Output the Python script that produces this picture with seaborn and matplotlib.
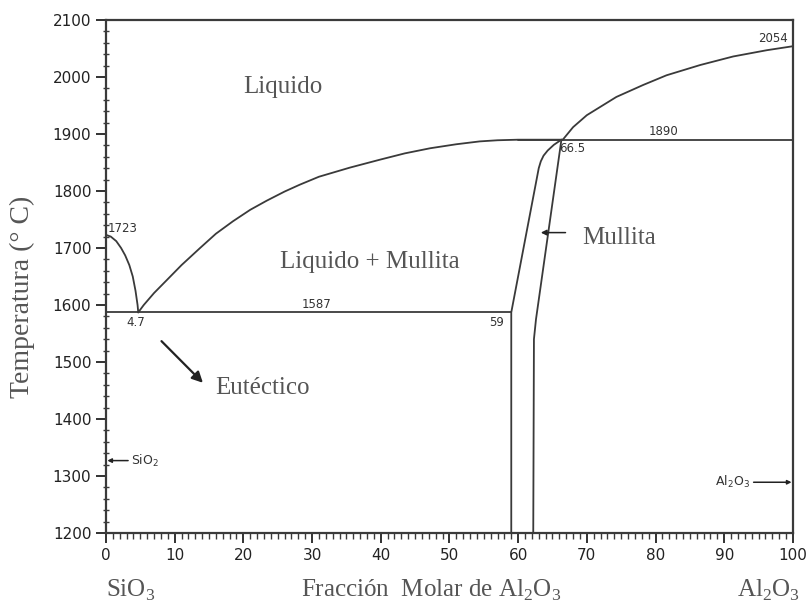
import seaborn as sns
import matplotlib.pyplot as plt
from matplotlib.ticker import MultipleLocator

# phase boundaries (x = mol % Al2O3, t = deg C)
sio2_liq_x = [0, 0.7, 1.5, 2.2, 2.8, 3.4, 3.9, 4.3, 4.6, 4.7]
sio2_liq_t = [1723, 1720, 1712, 1700, 1687, 1670, 1650, 1625, 1600, 1587]

mull_liq_x = [4.7, 5.5, 7, 8.8, 11, 13.7, 16, 18.5, 21, 23.4, 26, 28.2, 31,
              35.5, 39.9, 43.5, 47.2, 51, 54.4, 57, 60, 66.5]
mull_liq_t = [1587, 1600, 1621, 1643, 1670, 1700, 1725, 1747, 1767, 1783, 1799,
              1811, 1825, 1841, 1855, 1866, 1875, 1882, 1887, 1889, 1890, 1890]

al2o3_liq_x = [66.5, 68, 70, 74.3, 78.2, 81.6, 86.5, 91.3, 96.2, 100]
al2o3_liq_t = [1890, 1912, 1933, 1965, 1986, 2003, 2021, 2036, 2047, 2054]

mull_left_x = [59, 59, 63.0, 63.3, 63.7, 64.3, 65.2, 66.3]
mull_left_t = [1200, 1587, 1840, 1852, 1862, 1871, 1881, 1890]

mull_right_x = [62.2, 62.3, 62.6, 66.3]
mull_right_t = [1200, 1540, 1575, 1890]

eut_line_x = [0, 59]
eut_line_t = [1587, 1587]

per_line_x = [60, 100]
per_line_t = [1890, 1890]

curves = [
    (sio2_liq_x, sio2_liq_t),
    (mull_liq_x, mull_liq_t),
    (al2o3_liq_x, al2o3_liq_t),
    (mull_left_x, mull_left_t),
    (mull_right_x, mull_right_t),
    (eut_line_x, eut_line_t),
    (per_line_x, per_line_t),
]

# small numeric labels on the diagram
num_labels = ["1723", "4.7", "1587", "59", "66.5", "1890", "2054"]
num_x = [0.3, 4.3, 30.6, 56.9, 67.9, 81.1, 97.1]
num_t = [1735, 1570, 1600, 1570, 1875, 1904, 2068]
num_ha = ["left", "center", "center", "center", "center", "center", "center"]

sns.set_theme(style="ticks")
plt.rcParams['font.family'] = ['DejaVu Sans']

line_col = "#3a3a3a"
text_col = "#555555"
serif = "Liberation Serif"
sub2 = "$_{\\mathregular{2}}$"
sub3 = "$_{\\mathregular{3}}$"

fig = plt.figure(figsize=(8.12, 6.06), dpi=100)
ax = fig.add_axes([0.1305, 0.1205, 0.846, 0.8465])

for cx, ct in curves:
    sns.lineplot(x=cx, y=ct, sort=False, estimator=None, color=line_col,
                 linewidth=1.3, ax=ax)

ax.set_xlim(0, 100)
ax.set_ylim(1200, 2100)
ax.xaxis.set_major_locator(MultipleLocator(10))
ax.xaxis.set_minor_locator(MultipleLocator(1))
ax.yaxis.set_major_locator(MultipleLocator(100))
ax.yaxis.set_minor_locator(MultipleLocator(20))
ax.tick_params(axis='both', which='major', labelsize=11, colors="#222222",
               width=1.3, length=7, direction='out')
ax.tick_params(axis='x', which='minor', length=4, width=1.0, direction='out',
               color=line_col)
ax.tick_params(axis='y', which='minor', length=5, width=1.0, direction='inout',
               color=line_col)
for s in ax.spines.values():
    s.set_color(line_col)
    s.set_linewidth(1.6)
ax.set_xlabel("")
ax.set_ylabel("")

for lab, x, t, ha in zip(num_labels, num_x, num_t, num_ha):
    ax.text(x, t, lab, fontsize=8.5, ha=ha, va="center", color="#333333")

# region names
ax.text(25.8, 1982, "Liquido", family=serif, fontsize=18, color=text_col,
        ha="center", va="center")
ax.text(38.4, 1675, "Liquido + Mullita", family=serif, fontsize=18,
        color=text_col, ha="center", va="center")
ax.text(69.4, 1717, "Mullita", family=serif, fontsize=18, color=text_col,
        ha="left", va="center")
ax.text(15.9, 1454, "Eutéctico", family=serif, fontsize=18, color=text_col,
        ha="left", va="center")

# arrows
ax.annotate("", xy=(62.9, 1727), xytext=(67.3, 1727),
            arrowprops=dict(arrowstyle="-|>", color="#222222", lw=1.1,
                            mutation_scale=8))
ax.annotate("", xy=(14.4, 1460), xytext=(7.8, 1540),
            arrowprops=dict(arrowstyle="-|>", color="#222222", lw=1.6,
                            mutation_scale=16))
ax.annotate("SiO" + sub2, xy=(0.2, 1327), xytext=(3.7, 1327), fontsize=9,
            va="center", ha="left", color="#333333",
            arrowprops=dict(arrowstyle="-|>", color="#222222", lw=1.1,
                            mutation_scale=6, shrinkA=0, shrinkB=0))
ax.annotate("Al" + sub2 + "O" + sub3, xy=(99.8, 1289), xytext=(93.8, 1289),
            fontsize=9, va="center", ha="right", color="#333333",
            arrowprops=dict(arrowstyle="-|>", color="#222222", lw=1.1,
                            mutation_scale=6, shrinkA=0, shrinkB=0))

# axis captions
ax.text(-0.122, 0.46, "Temperatura (° C)", transform=ax.transAxes,
        rotation=90, family=serif, fontsize=20, color=text_col,
        ha="center", va="center")
ax.text(0.0, -0.112, "SiO" + sub3, transform=ax.transAxes, family=serif,
        fontsize=18, color=text_col, ha="left", va="center")
ax.text(0.473, -0.112, "Fracción  Molar de Al" + sub2 + "O" + sub3,
        transform=ax.transAxes, family=serif, fontsize=18, color=text_col,
        ha="center", va="center")
ax.text(1.01, -0.112, "Al" + sub2 + "O" + sub3, transform=ax.transAxes,
        family=serif, fontsize=18, color=text_col, ha="right", va="center")

fig.savefig("out.png", dpi=100)
